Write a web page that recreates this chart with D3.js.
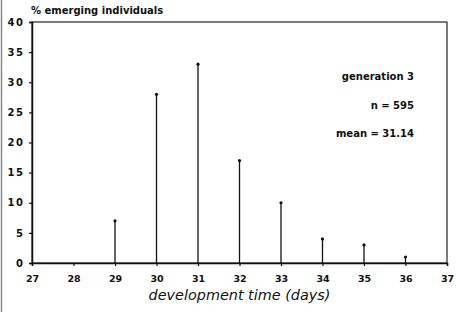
<!DOCTYPE html>
<html><head><meta charset="utf-8">
<script src="https://cdn.jsdelivr.net/npm/d3@7"></script>
<style>body{margin:0;background:#fff}svg text{font-family:"DejaVu Sans",sans-serif}</style>
</head><body><svg id="c" width="457" height="312"></svg>
<script>
const days = [29, 30, 31, 32, 33, 34, 35, 36];
const percent = [7, 28, 33, 17, 10, 4, 3, 1];
const xTicks = [27, 28, 29, 30, 31, 32, 33, 34, 35, 36, 37];
const yTicks = [0, 5, 10, 15, 20, 25, 30, 35, 40];
const notes = ["generation 3", "n = 595", "mean = 31.14"];

const svg = d3.select("#c");
const L = 32, R = 447, T = 22, B = 263;
const x = d3.scaleLinear().domain([27, 37]).range([L, R]);
const y = d3.scaleLinear().domain([0, 40]).range([B, T]);

svg.append("line").attr("x1",1.5).attr("x2",1.5).attr("y1",0).attr("y2",312).attr("stroke","#888").attr("stroke-width",1.5);
svg.append("rect").attr("x",L).attr("y",T).attr("width",R-L).attr("height",B-T).attr("fill","none").attr("stroke","#222").attr("stroke-width",1.2);

const ya = svg.append("g").attr("transform",`translate(${L},0)`)
  .call(d3.axisLeft(y).tickValues(yTicks).tickSize(3).tickPadding(6));
const xa = svg.append("g").attr("transform",`translate(0,${B})`)
  .call(d3.axisBottom(x).tickValues(xTicks).tickSize(3).tickPadding(9));
[ya, xa].forEach(a => {
  a.select(".domain").attr("stroke","#111").attr("stroke-width",1.5);
  a.selectAll(".tick line").attr("stroke","#111").attr("stroke-width",1.2);
  a.selectAll("text").attr("font-weight","bold").attr("fill","#111");
});
ya.selectAll("text").attr("font-size",10).attr("letter-spacing",1.5).attr("dx",1.5);
xa.selectAll("text").attr("font-size",9.5);

svg.selectAll(".stem").data(days).enter().append("line")
  .attr("x1", d => x(d)).attr("x2", d => x(d))
  .attr("y1", y(0)).attr("y2", (d,i) => y(percent[i]))
  .attr("stroke","#111").attr("stroke-width",1.3);
svg.selectAll(".dot").data(days).enter().append("circle")
  .attr("cx", d => x(d)).attr("cy", (d,i) => y(percent[i]))
  .attr("r",1.6).attr("fill","#111");

svg.append("text").attr("x",31).attr("y",14).attr("font-size",10).attr("font-weight","bold").attr("fill","#111").text("% emerging individuals");
svg.selectAll(".note").data(notes).enter().append("text")
  .attr("x",414).attr("y",(d,i)=>80+i*28.5).attr("text-anchor","end")
  .attr("font-size",10).attr("font-weight","bold").attr("fill","#111").text(d=>d);
svg.append("text").attr("x",(L+R)/2).attr("y",300).attr("text-anchor","middle")
  .attr("font-size",14.4).attr("font-style","italic").attr("fill","#111").text("development time (days)");
</script></body></html>
